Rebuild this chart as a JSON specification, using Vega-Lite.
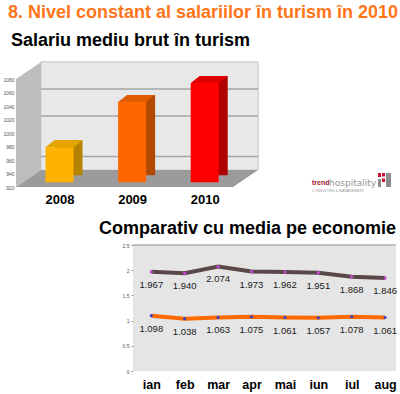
{
  "$schema": "https://vega.github.io/schema/vega-lite/v6.json",
  "background": "white",
  "padding": {"left": 2, "top": 3, "right": 2, "bottom": 2},
  "title": {"text": "8. Nivel constant al salariilor în turism în 2010", "anchor": "start", "frame": "bounds", "dx": 5, "font": "Liberation Sans", "fontSize": 18, "fontWeight": "bold", "color": "#ff7518", "offset": 10},
  "config": {"view": {"stroke": null}, "font": "Liberation Sans"},
  "spacing": 14,
  "vconcat": [
    {
      "width": 242,
      "height": 125,
      "title": {"text": "Salariu mediu brut în turism", "anchor": "start", "frame": "group", "dx": -5, "font": "Liberation Sans", "fontSize": 18, "fontWeight": "bold", "color": "#000000", "offset": 12},
      "resolve": {"scale": {"color": "independent"}},
      "layer": [
        {
          "data": {"name": "salarii", "values": [{"an": 2008, "salariu": 979}, {"an": 2009, "salariu": 1046}, {"an": 2010, "salariu": 1074}]},
          "mark": {"type": "rect", "color": "#e8e8e8", "stroke": "#d0d0d0", "strokeWidth": 1},
          "encoding": {
            "x": {"datum": 2007.745, "type": "quantitative", "scale": {"domain": [2007.401, 2010.734], "nice": false, "zero": false, "padding": 0},
              "axis": {"title": null, "values": [2008, 2009, 2010], "tickCount": 20, "format": "d", "labelOverlap": false, "domain": false, "ticks": false, "grid": false, "labelFont": "Liberation Sans", "labelFontSize": 13, "labelFontWeight": "bold", "labelColor": "#000000", "labelPadding": 6}},
            "x2": {"datum": 2010.734},
            "y": {"datum": 945.19, "type": "quantitative", "scale": {"domain": [920, 1105.2], "nice": false, "zero": false, "padding": 0},
              "axis": {"title": null, "values": [920, 940, 960, 980, 1000, 1020, 1040, 1060, 1080], "tickCount": 20, "format": "d", "labelOverlap": false, "domain": false, "ticks": false, "grid": false, "labelFontSize": 5, "labelColor": "#555555", "labelPadding": 2}},
            "y2": {"datum": 1105.2}
          }
        },
        {
          "data": {"values": [{}]},
          "mark": {"type": "point", "shape": "M-0.2,-0.728L0.2,-1L0.2,0.728L-0.2,1Z", "size": 15625, "filled": true, "opacity": 1, "color": "#bdbdbd", "strokeWidth": 0},
          "encoding": {
            "x": {"datum": 2007.573, "type": "quantitative", "scale": {"domain": [2007.401, 2010.734], "nice": false, "zero": false, "padding": 0}},
            "y": {"datum": 1012.6, "type": "quantitative", "scale": {"domain": [920, 1105.2], "nice": false, "zero": false, "padding": 0}}
          }
        },
        {
          "data": {"values": [{}]},
          "mark": {"type": "point", "shape": "M-1,0.0702L-0.7934,-0.0702L1,-0.0702L0.7934,0.0702Z", "size": 58564, "filled": true, "opacity": 1, "color": "#9b9b9b", "strokeWidth": 0},
          "encoding": {
            "x": {"datum": 2009.0675, "type": "quantitative", "scale": {"domain": [2007.401, 2010.734], "nice": false, "zero": false, "padding": 0}},
            "y": {"datum": 932.59, "type": "quantitative", "scale": {"domain": [920, 1105.2], "nice": false, "zero": false, "padding": 0}}
          }
        },
        {
          "data": {"values": [{"grila": 1040}, {"grila": 1000}, {"grila": 940}]},
          "mark": {"type": "rule", "color": "#a6a6a6", "strokeWidth": 1.5, "yOffset": -17},
          "encoding": {
            "x": {"datum": 2007.745, "type": "quantitative", "scale": {"domain": [2007.401, 2010.734], "nice": false, "zero": false, "padding": 0}},
            "x2": {"datum": 2010.734},
            "y": {"field": "grila", "type": "quantitative", "scale": {"domain": [920, 1105.2], "nice": false, "zero": false, "padding": 0}}
          }
        },
        {
          "data": {"name": "salarii"},
          "mark": {"type": "bar", "size": 28, "xOffset": 9, "yOffset": -7, "y2Offset": -7},
          "encoding": {
            "x": {"field": "an", "type": "quantitative", "scale": {"domain": [2007.401, 2010.734], "nice": false, "zero": false, "padding": 0}},
            "y": {"field": "salariu", "type": "quantitative", "scale": {"domain": [920, 1105.2], "nice": false, "zero": false, "padding": 0}},
            "y2": {"datum": 927},
            "color": {"field": "an", "type": "nominal", "scale": {"domain": [2008, 2009, 2010], "range": ["#b58300", "#b04a00", "#b00000"]}, "legend": null}
          }
        },
        {
          "data": {"name": "salarii"},
          "mark": {"type": "point", "shape": "M-0.6087,0L0.6087,0L1,-0.3043L-0.2174,-0.3043Z", "size": 2116, "filled": true, "opacity": 1, "strokeWidth": 0},
          "encoding": {
            "x": {"field": "an", "type": "quantitative", "scale": {"domain": [2007.401, 2010.734], "nice": false, "zero": false, "padding": 0}},
            "y": {"field": "salariu", "type": "quantitative", "scale": {"domain": [920, 1105.2], "nice": false, "zero": false, "padding": 0}},
            "color": {"field": "an", "type": "nominal", "scale": {"domain": [2008, 2009, 2010], "range": ["#e6a400", "#e05c00", "#e00000"]}, "legend": null}
          }
        },
        {
          "data": {"name": "salarii"},
          "mark": {"type": "bar", "size": 28},
          "encoding": {
            "x": {"field": "an", "type": "quantitative", "scale": {"domain": [2007.401, 2010.734], "nice": false, "zero": false, "padding": 0}},
            "y": {"field": "salariu", "type": "quantitative", "scale": {"domain": [920, 1105.2], "nice": false, "zero": false, "padding": 0}},
            "y2": {"datum": 927},
            "color": {"field": "an", "type": "nominal", "scale": {"domain": [2008, 2009, 2010], "range": ["#ffb300", "#ff6600", "#ff0000"]}, "legend": null}
          }
        },
        {
          "data": {"values": [{}]},
          "mark": {"type": "text", "text": "trend", "font": "Liberation Sans", "fontSize": 7, "fontWeight": "bold", "color": "#a3162a", "align": "left", "baseline": "middle"},
          "encoding": {
            "x": {"datum": 2011.478, "type": "quantitative", "scale": {"domain": [2007.401, 2010.734], "nice": false, "zero": false, "padding": 0}},
            "y": {"datum": 925.9, "type": "quantitative", "scale": {"domain": [920, 1105.2], "nice": false, "zero": false, "padding": 0}}
          }
        },
        {
          "data": {"values": [{}]},
          "mark": {"type": "text", "text": "hospitality", "font": "DejaVu Sans", "fontSize": 9, "color": "#959595", "align": "left", "baseline": "middle"},
          "encoding": {
            "x": {"datum": 2011.713, "type": "quantitative", "scale": {"domain": [2007.401, 2010.734], "nice": false, "zero": false, "padding": 0}},
            "y": {"datum": 925.9, "type": "quantitative", "scale": {"domain": [920, 1105.2], "nice": false, "zero": false, "padding": 0}}
          }
        },
        {
          "data": {"values": [{}]},
          "mark": {"type": "text", "text": "CONSULTING & MANAGEMENT", "font": "Liberation Sans", "fontSize": 3.5, "color": "#999999", "align": "left", "baseline": "middle"},
          "encoding": {
            "x": {"datum": 2011.478, "type": "quantitative", "scale": {"domain": [2007.401, 2010.734], "nice": false, "zero": false, "padding": 0}},
            "y": {"datum": 914.8, "type": "quantitative", "scale": {"domain": [920, 1105.2], "nice": false, "zero": false, "padding": 0}}
          }
        },
        {
          "data": {"values": [{}]},
          "mark": {"type": "point", "shape": "M-0.8125,-0.875L-0.4375,-0.875L-0.4375,-0.375L-0.8125,-0.375ZM-0.3125,-0.875L0.0625,-0.875L0.0625,-0.4375L-0.3125,-0.4375ZM-0.3125,-0.1875L0.0625,-0.1875L0.0625,0.25L-0.3125,0.25Z", "size": 256, "filled": true, "opacity": 1, "color": "#c8102e", "strokeWidth": 0},
          "encoding": {
            "x": {"datum": 2012.4766, "type": "quantitative", "scale": {"domain": [2007.401, 2010.734], "nice": false, "zero": false, "padding": 0}},
            "y": {"datum": 930.37, "type": "quantitative", "scale": {"domain": [920, 1105.2], "nice": false, "zero": false, "padding": 0}}
          }
        },
        {
          "data": {"values": [{}]},
          "mark": {"type": "point", "shape": "M-0.8125,-0.125L-0.4375,-0.125L-0.4375,0.875L-0.8125,0.875ZM0.1875,-0.875L0.8125,-0.875L0.8125,0.875L0.1875,0.875Z", "size": 256, "filled": true, "opacity": 1, "color": "#8c8c8c", "strokeWidth": 0},
          "encoding": {
            "x": {"datum": 2012.4766, "type": "quantitative", "scale": {"domain": [2007.401, 2010.734], "nice": false, "zero": false, "padding": 0}},
            "y": {"datum": 930.37, "type": "quantitative", "scale": {"domain": [920, 1105.2], "nice": false, "zero": false, "padding": 0}}
          }
        }
      ]
    },
    {
      "spacing": 0,
      "hconcat": [
        {
          "width": 82,
          "height": 10,
          "data": {"values": []},
          "mark": {"type": "point", "opacity": 0}
        },
        {
          "width": 263,
          "height": 126,
          "view": {"fill": "#e5e5e5", "stroke": null},
          "title": {"text": "Comparativ cu media pe economie", "anchor": "end", "frame": "group", "font": "Liberation Sans", "fontSize": 18, "fontWeight": "bold", "color": "#000000", "offset": 5},
          "data": {"name": "comparativ", "values": [
            {"luna": "ian", "serie": "seria 1", "valoare": 1.967},
            {"luna": "feb", "serie": "seria 1", "valoare": 1.940},
            {"luna": "mar", "serie": "seria 1", "valoare": 2.074},
            {"luna": "apr", "serie": "seria 1", "valoare": 1.973},
            {"luna": "mai", "serie": "seria 1", "valoare": 1.962},
            {"luna": "iun", "serie": "seria 1", "valoare": 1.951},
            {"luna": "iul", "serie": "seria 1", "valoare": 1.868},
            {"luna": "aug", "serie": "seria 1", "valoare": 1.846},
            {"luna": "ian", "serie": "seria 2", "valoare": 1.098},
            {"luna": "feb", "serie": "seria 2", "valoare": 1.038},
            {"luna": "mar", "serie": "seria 2", "valoare": 1.063},
            {"luna": "apr", "serie": "seria 2", "valoare": 1.075},
            {"luna": "mai", "serie": "seria 2", "valoare": 1.061},
            {"luna": "iun", "serie": "seria 2", "valoare": 1.057},
            {"luna": "iul", "serie": "seria 2", "valoare": 1.078},
            {"luna": "aug", "serie": "seria 2", "valoare": 1.061}
          ]},
          "resolve": {"scale": {"color": "independent"}},
          "layer": [
            {
              "mark": {"type": "line", "strokeWidth": 4},
              "encoding": {
                "x": {"field": "luna", "type": "ordinal", "sort": ["ian", "feb", "mar", "apr", "mai", "iun", "iul", "aug"], "scale": {"type": "point", "padding": 0.437, "align": 0.627},
                  "axis": {"title": null, "domain": false, "ticks": false, "grid": false, "labelAngle": 0, "labelFont": "Liberation Sans", "labelFontSize": 12.5, "labelFontWeight": "bold", "labelColor": "#000000", "labelPadding": 7}},
                "y": {"field": "valoare", "type": "quantitative", "scale": {"domain": [0, 2.5], "nice": false},
                  "axis": {"title": null, "values": [0, 0.5, 1, 1.5, 2, 2.5], "tickCount": 20, "format": "~g", "labelOverlap": false, "domain": false, "grid": false, "ticks": true, "tickSize": 2, "tickColor": "#999999", "labelFontSize": 5, "labelColor": "#555555", "labelPadding": 2}},
                "color": {"field": "serie", "type": "nominal", "scale": {"domain": ["seria 1", "seria 2"], "range": ["#5a4848", "#ff6a00"]}, "legend": null}
              }
            },
            {
              "data": {"values": [{}]},
              "mark": {"type": "rule", "color": "#b0b0b0", "strokeWidth": 1.5},
              "encoding": {
                "y": {"datum": 2.5, "type": "quantitative", "scale": {"domain": [0, 2.5], "nice": false}}
              }
            },
            {
              "mark": {"type": "point", "filled": true, "size": 10, "opacity": 1},
              "encoding": {
                "x": {"field": "luna", "type": "ordinal", "sort": ["ian", "feb", "mar", "apr", "mai", "iun", "iul", "aug"], "scale": {"type": "point", "padding": 0.437, "align": 0.627}},
                "y": {"field": "valoare", "type": "quantitative", "scale": {"domain": [0, 2.5], "nice": false}},
                "color": {"field": "serie", "type": "nominal", "scale": {"domain": ["seria 1", "seria 2"], "range": ["#cc44dd", "#3344cc"]}, "legend": null}
              }
            },
            {
              "mark": {"type": "text", "dy": 13, "font": "Liberation Sans", "fontSize": 9.5, "color": "#1a1a1a", "baseline": "middle"},
              "encoding": {
                "x": {"field": "luna", "type": "ordinal", "sort": ["ian", "feb", "mar", "apr", "mai", "iun", "iul", "aug"], "scale": {"type": "point", "padding": 0.437, "align": 0.627}},
                "y": {"field": "valoare", "type": "quantitative", "scale": {"domain": [0, 2.5], "nice": false}},
                "text": {"field": "valoare", "type": "quantitative", "format": ".3f"}
              }
            }
          ]
        }
      ]
    }
  ]
}
